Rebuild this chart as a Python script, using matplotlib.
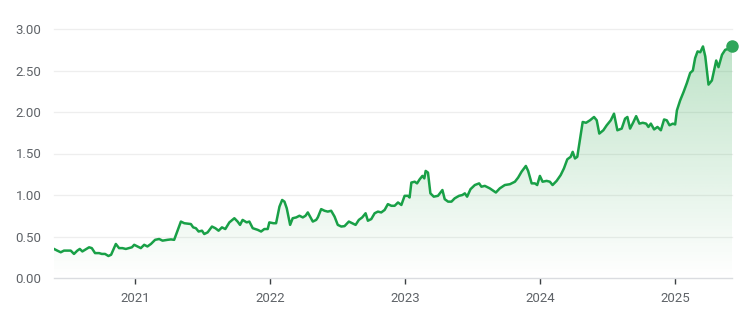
"""Price history line chart with a soft green gradient under the line."""

import numpy as np
import matplotlib
matplotlib.use("Agg")
import matplotlib.pyplot as plt
from matplotlib.colors import to_rgb

# decimal year of each traced point and its value
years = [
    2020.399, 2020.423, 2020.449, 2020.473, 2020.523, 2020.547, 2020.572, 2020.590,
    2020.609, 2020.634, 2020.659, 2020.679, 2020.703, 2020.733, 2020.753, 2020.777,
    2020.802, 2020.822, 2020.857, 2020.881, 2020.906, 2020.931, 2020.955, 2020.976,
    2020.993, 2021.017, 2021.042, 2021.067, 2021.091, 2021.117, 2021.148, 2021.178,
    2021.203, 2021.240, 2021.265, 2021.289, 2021.339, 2021.364, 2021.413, 2021.430,
    2021.450, 2021.470, 2021.495, 2021.512, 2021.537, 2021.569, 2021.594, 2021.618,
    2021.643, 2021.668, 2021.698, 2021.735, 2021.759, 2021.777, 2021.796, 2021.826,
    2021.846, 2021.871, 2021.908, 2021.933, 2021.957, 2021.982, 2021.994, 2022.024,
    2022.044, 2022.069, 2022.089, 2022.106, 2022.123, 2022.148, 2022.167, 2022.193,
    2022.217, 2022.242, 2022.262, 2022.279, 2022.296, 2022.316, 2022.341, 2022.353,
    2022.378, 2022.403, 2022.427, 2022.452, 2022.477, 2022.501, 2022.527, 2022.551,
    2022.583, 2022.608, 2022.633, 2022.657, 2022.682, 2022.707, 2022.724, 2022.749,
    2022.774, 2022.798, 2022.823, 2022.848, 2022.872, 2022.898, 2022.922, 2022.947,
    2022.972, 2022.996, 2023.021, 2023.033, 2023.046, 2023.071, 2023.088, 2023.108,
    2023.128, 2023.142, 2023.152, 2023.169, 2023.187, 2023.212, 2023.243, 2023.276,
    2023.293, 2023.318, 2023.343, 2023.367, 2023.399, 2023.424, 2023.442, 2023.459,
    2023.484, 2023.516, 2023.548, 2023.565, 2023.590, 2023.627, 2023.672, 2023.701,
    2023.738, 2023.776, 2023.813, 2023.837, 2023.862, 2023.894, 2023.911, 2023.937,
    2023.961, 2023.978, 2023.998, 2024.018, 2024.048, 2024.072, 2024.092, 2024.122,
    2024.152, 2024.176, 2024.201, 2024.226, 2024.241, 2024.258, 2024.275, 2024.290,
    2024.315, 2024.340, 2024.369, 2024.399, 2024.419, 2024.438, 2024.468, 2024.493,
    2024.523, 2024.547, 2024.572, 2024.604, 2024.629, 2024.646, 2024.666, 2024.691,
    2024.711, 2024.735, 2024.760, 2024.785, 2024.802, 2024.820, 2024.844, 2024.869,
    2024.894, 2024.918, 2024.938, 2024.958, 2024.983, 2025.000, 2025.013, 2025.037,
    2025.062, 2025.087, 2025.111, 2025.131, 2025.148, 2025.166, 2025.186, 2025.206,
    2025.223, 2025.247, 2025.272, 2025.304, 2025.321, 2025.347, 2025.371, 2025.396,
    2025.421,
]
prices = [
    0.35, 0.33, 0.31, 0.33, 0.33, 0.29, 0.33, 0.35,
    0.32, 0.345, 0.37, 0.36, 0.30, 0.30, 0.29, 0.29,
    0.265, 0.28, 0.41, 0.36, 0.36, 0.35, 0.36, 0.37,
    0.40, 0.38, 0.36, 0.40, 0.38, 0.41, 0.46, 0.47,
    0.45, 0.46, 0.465, 0.46, 0.68, 0.66, 0.65, 0.61,
    0.60, 0.56, 0.57, 0.53, 0.55, 0.62, 0.60, 0.57,
    0.61, 0.59, 0.67, 0.72, 0.68, 0.64, 0.70, 0.67,
    0.68, 0.60, 0.58, 0.56, 0.59, 0.59, 0.67, 0.66,
    0.66, 0.86, 0.94, 0.92, 0.84, 0.64, 0.72, 0.73,
    0.75, 0.73, 0.75, 0.79, 0.74, 0.68, 0.70, 0.73,
    0.83, 0.81, 0.80, 0.81, 0.74, 0.64, 0.62, 0.625,
    0.68, 0.66, 0.64, 0.70, 0.73, 0.78, 0.69, 0.71,
    0.78, 0.80, 0.79, 0.82, 0.89, 0.87, 0.87, 0.91,
    0.88, 0.99, 0.99, 0.97, 1.15, 1.16, 1.14, 1.19,
    1.23, 1.20, 1.29, 1.27, 1.02, 0.98, 0.99, 1.06,
    0.95, 0.92, 0.92, 0.96, 0.99, 1.00, 1.02, 0.98,
    1.07, 1.12, 1.14, 1.10, 1.11, 1.08, 1.03, 1.08,
    1.12, 1.13, 1.16, 1.21, 1.28, 1.35, 1.29, 1.14,
    1.14, 1.12, 1.23, 1.16, 1.17, 1.16, 1.12, 1.17,
    1.24, 1.32, 1.43, 1.46, 1.52, 1.44, 1.46, 1.62,
    1.88, 1.87, 1.90, 1.94, 1.90, 1.74, 1.78, 1.84,
    1.90, 1.98, 1.78, 1.80, 1.92, 1.94, 1.80, 1.88,
    1.95, 1.86, 1.87, 1.86, 1.82, 1.86, 1.79, 1.82,
    1.78, 1.91, 1.90, 1.84, 1.86, 1.85, 2.02, 2.14,
    2.24, 2.35, 2.47, 2.50, 2.65, 2.73, 2.72, 2.79,
    2.67, 2.33, 2.38, 2.62, 2.54, 2.69, 2.75, 2.76,
    2.80,
]
year_ticks = [2021, 2022, 2023, 2024, 2025]
y_ticks = [0.0, 0.5, 1.0, 1.5, 2.0, 2.5, 3.0]

W, H, DPI = 754, 323, 100
green = "#19a047"
dot = "#2fa65a"
label_color = "#5f6368"
grid_color = "#eeeeee"

plt.rcParams["font.family"] = ["Roboto", "DejaVu Sans"]

fig = plt.figure(figsize=(W / DPI, H / DPI), dpi=DPI, facecolor="white")
ax = fig.add_axes((54 / W, (H - 278) / H, (732 - 54) / W, (278 - 29) / H))

x = np.array(years)
y = np.array(prices)
x0, x1 = years[0], years[-1]
ax.set_xlim(x0, x1)
ax.set_ylim(0, 3.0)

# vertical gradient under the line
top = max(prices)
rgb = to_rgb("#34a853")
grad = np.zeros((256, 2, 4))
grad[:, :, :3] = rgb
grad[:, :, 3] = np.linspace(0.0, 0.32, 256)[:, None]
img = ax.imshow(grad, extent=(x0, x1, 0, top), origin="lower", aspect="auto", zorder=1)
poly = ax.fill_between(x, y, 0, color="none", linewidth=0)
img.set_clip_path(poly.get_paths()[0], transform=ax.transData)

for v in y_ticks[1:]:
    ax.axhline(v, color=grid_color, linewidth=0.9, zorder=0, clip_on=False)
ax.axhline(0, color="#dadce0", linewidth=1.0, zorder=2, clip_on=False)

ax.plot(x, y, color=green, linewidth=1.8, solid_joinstyle="round", zorder=3)
ax.plot([x[-1]], [y[-1]], "o", color=dot, markersize=8, zorder=4, clip_on=False)

for s in ax.spines.values():
    s.set_visible(False)

ax.set_yticks(y_ticks)
ax.set_yticklabels([f"{v:.2f}" for v in y_ticks])
ax.set_xticks(year_ticks)
ax.set_xticklabels([str(t) for t in year_ticks])
ax.tick_params(axis="y", length=0, pad=9, labelsize=9.5, labelcolor=label_color)
ax.tick_params(axis="x", length=4, width=1, color="#3c4043", direction="out",
               pad=6, labelsize=9.5, labelcolor=label_color)

fig.savefig("out.png", dpi=DPI, facecolor="white")
